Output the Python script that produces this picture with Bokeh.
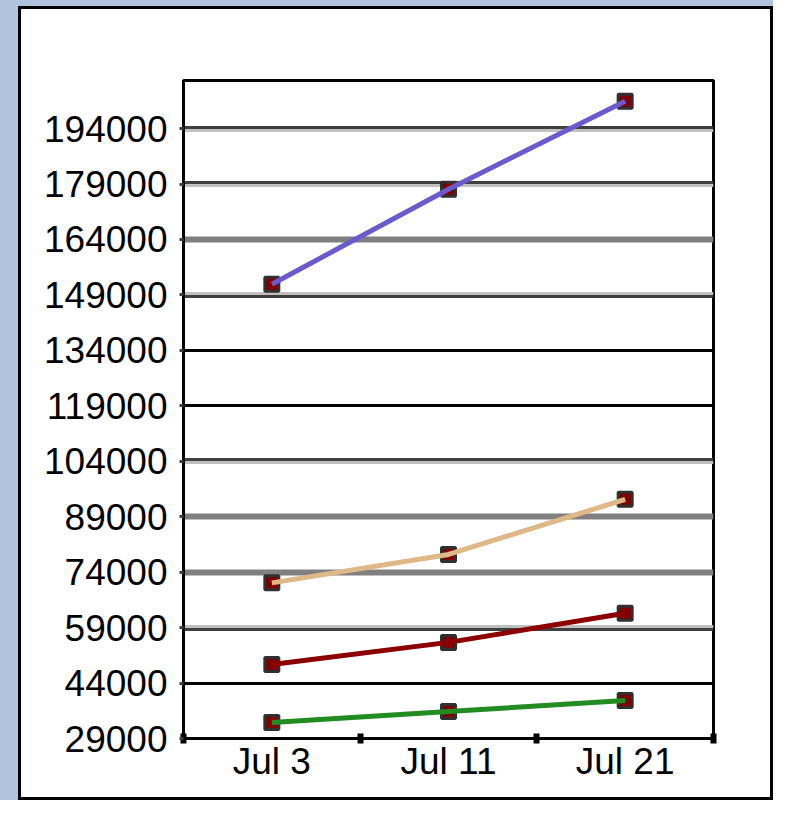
from bokeh.plotting import figure
from bokeh.models import FixedTicker, Grid, Range1d, BasicTickFormatter
from bokeh.embed import file_html
from bokeh.resources import INLINE

# ---- data ----
dates = ["Jul 3", "Jul 11", "Jul 21"]
series_purple = [151900, 177600, 201400]
series_tan = [71100, 78800, 93700]
series_red = [49000, 55000, 62900]
series_green = [33300, 36300, 39300]
y_ticks = list(range(29000, 194001, 15000))
grid_dark_top = [194000, 179000, 104000]
grid_light_top = [149000, 59000]
grid_gray = [164000, 89000, 74000]
grid_black = [134000, 119000, 44000]
y_start, y_end = 29000, 207000

W, H = 773, 800
MB_L, MB_R, MB_T, MB_B = 183, 60, 80, 62
FONT = "Liberation Sans"
PAGE_BG = "#B0C4DE"

xs = [i + 0.5 for i in range(len(dates))]

p = figure(width=W, height=H, output_backend="svg", toolbar_location=None,
           x_range=Range1d(0, len(dates)), y_range=Range1d(y_start, y_end),
           min_border_left=MB_L, min_border_right=MB_R,
           min_border_top=MB_T, min_border_bottom=MB_B)
# panel: light-blue strips on left/top, black border around white area
p.styles = {
    "background-color": "white",
    "box-shadow": (f"inset 18px 6px 0 0 {PAGE_BG}, inset 21px 9px 0 0 black, "
                   "inset -3px -3px 0 0 black"),
}
p.background_fill_color = "white"
p.border_fill_color = None
p.outline_line_color = "black"
p.outline_line_width = 3
p.grid.visible = False

# offset (1.5 px) expressed in data units for two-tone grid lines
frame_h = H - MB_T - MB_B
d = 1.5 * (y_end - y_start) / frame_h
p.extra_y_ranges = {"up": Range1d(y_start - d, y_end - d),
                    "down": Range1d(y_start + d, y_end + d)}

def add_grid(ticks, color, width, rng="default"):
    g = Grid(dimension=1, ticker=FixedTicker(ticks=ticks),
             grid_line_color=color, grid_line_width=width, y_range_name=rng)
    p.add_layout(g)

add_grid(grid_dark_top, "#404040", 3, "up")
add_grid(grid_dark_top, "#c0c0c0", 3, "down")
add_grid(grid_light_top, "#c0c0c0", 3, "up")
add_grid(grid_light_top, "#404040", 3, "down")
add_grid(grid_gray, "#808080", 6)
add_grid(grid_black, "black", 3)

# axes
xa = p.xaxis[0]
xa.ticker = FixedTicker(ticks=xs, minor_ticks=list(range(len(dates) + 1)))
xa.major_label_overrides = {x: lab for x, lab in zip(xs, dates)}
xa.major_tick_line_color = None
xa.major_tick_in = 0
xa.major_tick_out = 0
xa.minor_tick_line_color = "black"
xa.minor_tick_line_width = 6
xa.minor_tick_in = 5
xa.minor_tick_out = 5
xa.axis_line_color = "black"
xa.axis_line_width = 3
xa.major_label_text_font = FONT
xa.major_label_text_font_size = "37px"
xa.major_label_text_color = "black"
xa.major_label_standoff = -3

ya = p.yaxis[0]
ya.ticker = FixedTicker(ticks=y_ticks)
ya.formatter = BasicTickFormatter(use_scientific=False)
ya.major_tick_in = 0
ya.major_tick_out = 4
ya.major_tick_line_color = "#404040"
ya.major_tick_line_width = 3
ya.minor_tick_line_color = None
ya.axis_line_color = "black"
ya.axis_line_width = 3
ya.major_label_text_font = FONT
ya.major_label_text_font_size = "37px"
ya.major_label_text_color = "black"
ya.major_label_standoff = 12

series = [(series_purple, "#6A5ACD"), (series_tan, "#DEB887"),
          (series_red, "#8B0000"), (series_green, "#228B22")]

for vals, col in series:
    p.scatter(xs, vals, marker="square", size=14, fill_color="#800000",
              line_color="#303030", line_width=3)
for vals, col in series:
    p.line(xs, vals, line_color=col, line_width=5)

open("out.html", "w").write(file_html(p, INLINE))
